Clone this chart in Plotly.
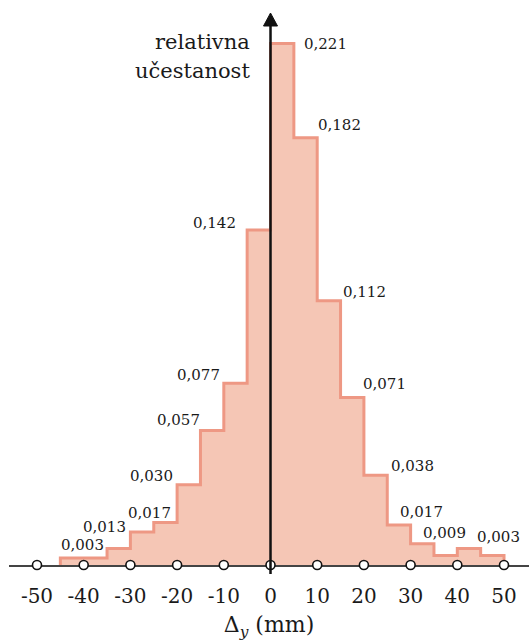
import plotly.graph_objects as go

# ---- data ----
bin_edges = [-45, -40, -35, -30, -25, -20, -15, -10, -5, 0,
             5, 10, 15, 20, 25, 30, 35, 40, 45, 50]
rel_freq = [0.003, 0.003, 0.007, 0.014, 0.018, 0.034, 0.057, 0.077, 0.142, 0.221,
            0.181, 0.112, 0.071, 0.038, 0.017, 0.009, 0.004, 0.007, 0.004]
label_bins = [0, 3, 4, 5, 6, 7, 8, 9, 10, 11, 12, 13, 14, 15, 18]
label_text = ["0,003", "0,013", "0,017", "0,030", "0,057", "0,077", "0,142", "0,221",
              "0,182", "0,112", "0,071", "0,038", "0,017", "0,009", "0,003"]
tick_vals = [-50, -40, -30, -20, -10, 0, 10, 20, 30, 40, 50]
tick_text = ["-50", "-40", "-30", "-20", "-10", "0", "10", "20", "30", "40", "50"]
x_title = "Δ<sub><i>y</i></sub> (mm)"
y_title = ["relativna", "učestanost"]

# ---- styling / placement ----
W, H = 529, 641
FONT = "DejaVu Serif"
FILL = "#F5C6B5"
EDGE = "#EE9884"
TXT = "#1a1a1a"
# (edge side, text anchor, xshift, yshift) for each value label
label_place = [("l", "left", -1, 13), ("l", "right", -2, 5), ("r", "right", -4, 10),
               ("l", "right", -2, 9), ("l", "right", 2, 10), ("l", "right", -2, 8),
               ("l", "right", -9, 7), ("r", "left", 8, -1), ("r", "left", -1, 13),
               ("r", "left", 0, 9), ("r", "left", -3, 13), ("r", "left", 2, 9),
               ("r", "left", -13, 13), ("r", "left", -13, 11), ("l", "left", -6, 19)]

xs = [bin_edges[0]] + bin_edges + [bin_edges[-1]]
ys = [0] + rel_freq + [rel_freq[-1], 0]

fig = go.Figure()
fig.add_trace(go.Scatter(
    x=xs, y=ys, mode="lines", line=dict(shape="hv", color=EDGE, width=3),
    fill="tozeroy", fillcolor=FILL, hoverinfo="skip", showlegend=False))
fig.add_trace(go.Scatter(
    x=tick_vals, y=[0] * len(tick_vals), mode="markers", cliponaxis=False,
    marker=dict(symbol="circle", size=9, color="white",
                line=dict(color="#111", width=1.6)),
    hoverinfo="skip", showlegend=False))

annotations = []
for b, t, (side, anc, dx, dy) in zip(label_bins, label_text, label_place):
    xe = bin_edges[b] if side == "l" else bin_edges[b + 1]
    annotations.append(dict(x=xe, y=rel_freq[b], xref="x", yref="y", text=t,
                            showarrow=False, xanchor=anc, yanchor="middle",
                            xshift=dx, yshift=dy,
                            font=dict(family=FONT, size=15, color=TXT)))
for i, t in enumerate(y_title):
    annotations.append(dict(x=252 / W, y=(H - 42 - 29 * i) / H, xref="paper", yref="paper",
                            text=t, showarrow=False, xanchor="right", yanchor="middle",
                            font=dict(family=FONT, size=21, color=TXT)))

shapes = [
    dict(type="line", xref="x", yref="paper", x0=0, x1=0,
         y0=(H - 574) / H, y1=(H - 24) / H, line=dict(color="#111", width=2.5),
         layer="above"),
    dict(type="path", xref="x", yref="paper", xsizemode="pixel", ysizemode="pixel",
         xanchor=0, yanchor=(H - 26) / H, path="M-7,0 L7,0 L0,13 Z",
         fillcolor="#111", line=dict(color="#111", width=1), layer="above"),
]

fig.update_layout(
    width=W, height=H, margin=dict(l=0, r=0, t=0, b=0),
    paper_bgcolor="white", plot_bgcolor="white",
    font=dict(family=FONT, color=TXT),
    showlegend=False, annotations=annotations, shapes=shapes,
    hovermode=False,
    xaxis=dict(range=[-55.996, 55.35], domain=[9 / W, 1], tickvals=tick_vals,
               ticktext=tick_text, ticks="outside", ticklen=12,
               tickcolor="rgba(0,0,0,0)", tickfont=dict(family=FONT, size=20, color=TXT),
               showline=True, linecolor="#444", linewidth=2, showgrid=False,
               zeroline=False, layer="below traces", fixedrange=True,
               title=dict(text=x_title, font=dict(family=FONT, size=22, color=TXT),
                          standoff=12)),
    yaxis=dict(range=[0, 565 / 2360], domain=[76 / H, 1], visible=False,
               fixedrange=True),
)

fig.write_html("out.html", config={"displayModeBar": False},
               post_script="document.body.style.margin='0';"
                           "document.body.style.overflow='hidden';")
